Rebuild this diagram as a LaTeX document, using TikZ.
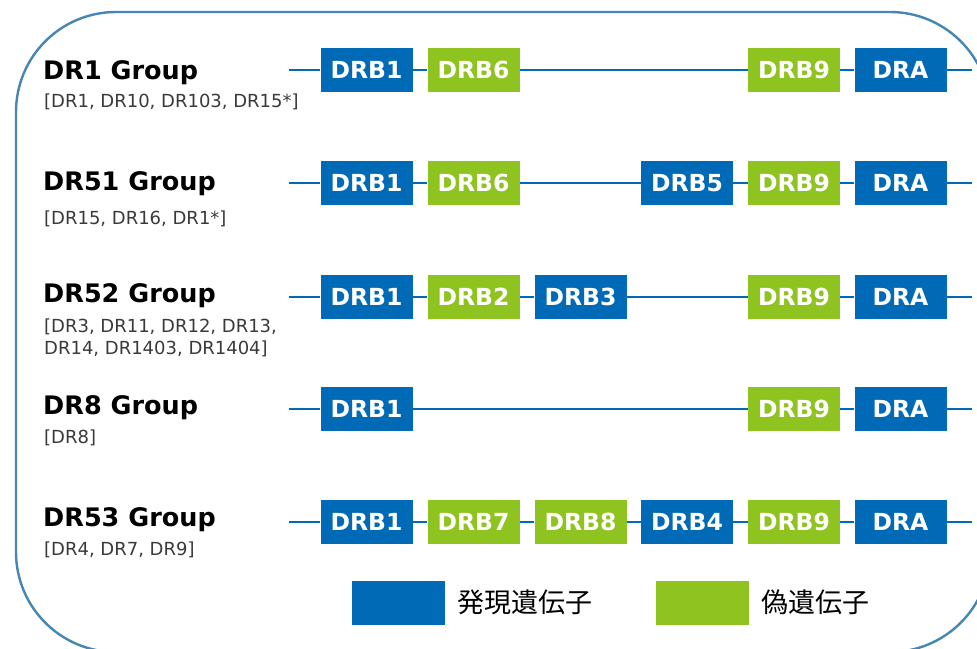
\documentclass[tikz,border=0pt]{standalone}
\usepackage{fontspec}
\setmainfont{DejaVu Sans}
\newfontfamily\cjk{Noto Sans CJK JP}
\definecolor{geneblue}{HTML}{006AB6}
\definecolor{genegreen}{HTML}{8FC31F}
\definecolor{framecol}{HTML}{4686B4}
\definecolor{subgray}{HTML}{3A3A3A}
\tikzset{
  gbox/.style={minimum width=92pt,minimum height=44pt,inner sep=0pt,text=white,
    font=\fontsize{23.5}{27}\selectfont\bfseries},
  bluebox/.style={gbox,fill=geneblue},
  greenbox/.style={gbox,fill=genegreen},
  wire/.style={draw=geneblue,line width=2.6pt},
  grouptitle/.style={anchor=base west,inner sep=0pt,font=\fontsize{25.5}{28}\selectfont\bfseries},
  groupsub/.style={anchor=base west,inner sep=0pt,text=subgray,align=left,font=\fontsize{18}{22}\selectfont},
  legendtext/.style={anchor=west,inner sep=0pt,font=\cjk\fontsize{27}{30}\selectfont}
}
\begin{document}
\begin{tikzpicture}[x=1pt,y=-1pt]
\useasboundingbox (0,0) rectangle (977,648);
\begin{scope}
\clip (0,0) rectangle (977,648);
\draw[framecol,line width=2.4pt,rounded corners=100pt] (16,12) rectangle (990,652);
\end{scope}

% Row 1
\coordinate (r1s) at (289,70); \coordinate (r1e) at (972,70);
\node[bluebox]  (r1a) at (366.5,70) {DRB1};
\node[greenbox] (r1b) at (473.5,70) {DRB6};
\node[greenbox] (r1c) at (794,70) {DRB9};
\node[bluebox]  (r1d) at (900.5,70) {DRA};
\draw[wire] (r1s) -- (r1a) -- (r1b) -- (r1c) -- (r1d) -- (r1e);
\node[grouptitle] (t1) at (43,79) {DR1 Group};
\node[groupsub] (s1) at (44,107) {[DR1, DR10, DR103, DR15*]};

% Row 2
\coordinate (r2s) at (289,183); \coordinate (r2e) at (972,183);
\node[bluebox]  (r2a) at (366.5,183) {DRB1};
\node[greenbox] (r2b) at (473.5,183) {DRB6};
\node[bluebox]  (r2c) at (687,183) {DRB5};
\node[greenbox] (r2d) at (794,183) {DRB9};
\node[bluebox]  (r2e2) at (900.5,183) {DRA};
\draw[wire] (r2s) -- (r2a) -- (r2b) -- (r2c) -- (r2d) -- (r2e2) -- (r2e);
\node[grouptitle] (t2) at (43,190) {DR51 Group};
\node[groupsub] (s2) at (44,224) {[DR15, DR16, DR1*]};

% Row 3
\coordinate (r3s) at (289,297); \coordinate (r3e) at (972,297);
\node[bluebox]  (r3a) at (366.5,297) {DRB1};
\node[greenbox] (r3b) at (473.5,297) {DRB2};
\node[bluebox]  (r3c) at (580.5,297) {DRB3};
\node[greenbox] (r3d) at (794,297) {DRB9};
\node[bluebox]  (r3e2) at (900.5,297) {DRA};
\draw[wire] (r3s) -- (r3a) -- (r3b) -- (r3c) -- (r3d) -- (r3e2) -- (r3e);
\node[grouptitle] (t3) at (43,302) {DR52 Group};
\node[groupsub] (s3) at (44,354) {[DR3, DR11, DR12, DR13,\\DR14, DR1403, DR1404]};

% Row 4
\coordinate (r4s) at (289,409); \coordinate (r4e) at (972,409);
\node[bluebox]  (r4a) at (366.5,409) {DRB1};
\node[greenbox] (r4b) at (794,409) {DRB9};
\node[bluebox]  (r4c) at (900.5,409) {DRA};
\draw[wire] (r4s) -- (r4a) -- (r4b) -- (r4c) -- (r4e);
\node[grouptitle] (t4) at (43,414) {DR8 Group};
\node[groupsub] (s4) at (44,443) {[DR8]};

% Row 5
\coordinate (r5s) at (289,522); \coordinate (r5e) at (972,522);
\node[bluebox]  (r5a) at (366.5,522) {DRB1};
\node[greenbox] (r5b) at (473.5,522) {DRB7};
\node[greenbox] (r5c) at (580.5,522) {DRB8};
\node[bluebox]  (r5d) at (687,522) {DRB4};
\node[greenbox] (r5f) at (794,522) {DRB9};
\node[bluebox]  (r5g) at (900.5,522) {DRA};
\draw[wire] (r5s) -- (r5a) -- (r5b) -- (r5c) -- (r5d) -- (r5f) -- (r5g) -- (r5e);
\node[grouptitle] (t5) at (43,526) {DR53 Group};
\node[groupsub] (s5) at (44,555) {[DR4, DR7, DR9]};

% Legend
\node[fill=geneblue,minimum width=93pt,minimum height=44pt,inner sep=0pt] (lb) at (398.5,603) {};
\node[legendtext] (lbt) at (457,602) {発現遺伝子};
\node[fill=genegreen,minimum width=93pt,minimum height=44pt,inner sep=0pt] (lg) at (702.5,603) {};
\node[legendtext] (lgt) at (761,602) {偽遺伝子};
\end{tikzpicture}
\end{document}
